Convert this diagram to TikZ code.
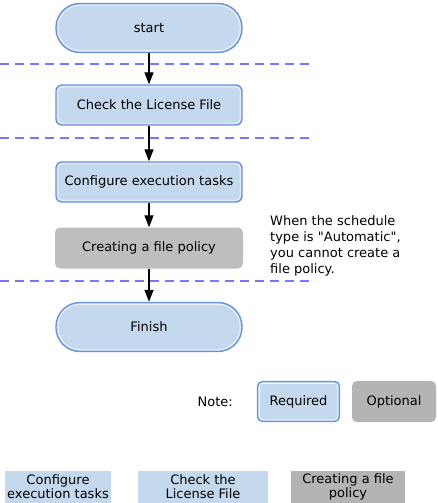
\documentclass[tikz,border=0pt]{standalone}
\definecolor{stepBlue}{RGB}{197,217,238}
\definecolor{stepEdge}{RGB}{108,148,217}
\definecolor{stepGray}{RGB}{190,190,190}
\definecolor{optGray}{RGB}{180,180,180}
\definecolor{phaseLine}{RGB}{118,118,255}
\usepackage{fontspec}
\setmainfont{DejaVu Sans}[Ligatures=TeXOff]
\usepackage{tikz}
\usetikzlibrary{shapes,arrows.meta,positioning,calc}

\tikzset{
  inner rim/.style={path picture={
      \draw[white!70!stepBlue, line width=0.9pt, rounded corners=#1]
        ([shift={(1.8pt,-1.8pt)}]path picture bounding box.north west) rectangle
        ([shift={(-1.8pt,1.8pt)}]path picture bounding box.south east);}},
  reqbox/.style={draw=stepEdge, line width=1.4pt, fill=stepBlue, rounded corners=6pt,
                 inner rim=4pt, minimum width=186pt, minimum height=40pt, align=center},
  optbox/.style={fill=stepGray, rounded corners=5pt,
                 minimum width=188pt, minimum height=41pt, align=center},
  termbox/.style={reqbox, rounded corners=24pt, inner rim=22pt, minimum height=49pt},
  phase/.style={draw=phaseLine, line width=1.1pt, dash pattern=on 9pt off 6pt},
  flow/.style={-{Triangle[length=12pt,width=9pt]}, line width=1.3pt, black},
  tagbox/.style={inner sep=0pt, minimum height=32pt, align=center, font=\fontsize{13}{14}\selectfont}
}

\begin{document}
\begin{tikzpicture}[x=1pt, y=-1pt, font=\fontsize{13}{16}\selectfont]
        \useasboundingbox[fill=white] (0,0) rectangle (437,503);

        % flow steps
        \node[termbox] (start) at (149,28) {start};
        \node[reqbox] (check) at (149,105) {Check the License File};
        \node[reqbox] (config) at (149,182) {Configure execution tasks};
        \node[optbox] (policy) at (149,248) {Creating a file policy};
        \node[termbox] (finish) at (149,327) {Finish};

        \draw[flow] (start) -- (check);
        \draw[flow] (check) -- (config);
        \draw[flow] (config) -- (policy);
        \draw[flow] (policy) -- (finish);

        % phase borders
        \foreach \name/\yy in {one/64, two/138, three/281} {
          \coordinate (\name-l) at (0,\yy);
          \coordinate (\name-r) at (315,\yy);
          \draw[phase] (\name-l) -- (\name-r);
        }

        \node[anchor=north west, align=left, inner sep=0pt] (remark) at (270,215)
          {When the schedule\\ type is "Automatic",\\ you cannot create a\\ file policy.};

        % legend
        \node[anchor=east, inner sep=0pt] (note) at (233,402) {Note:};
        \node[reqbox, rounded corners=5pt, inner rim=3pt, minimum width=82pt, minimum height=40pt] (req) at (298.5,401.5) {Required};
        \node[optbox, fill=optGray, minimum width=84pt] (opt) at (394,401.5) {Optional};

        \node[tagbox, fill=stepBlue, minimum width=106pt] (tagconfig) at (58,487)
          {Configure\\execution tasks};
        \node[tagbox, fill=stepBlue, minimum width=130pt] (tagcheck) at (203,487)
          {Check the\\License File};
        \node[tagbox, fill=optGray, minimum width=114pt] (tagpolicy) at (348,487)
          {Creating a file\\policy};
      \end{tikzpicture}
\end{document}
